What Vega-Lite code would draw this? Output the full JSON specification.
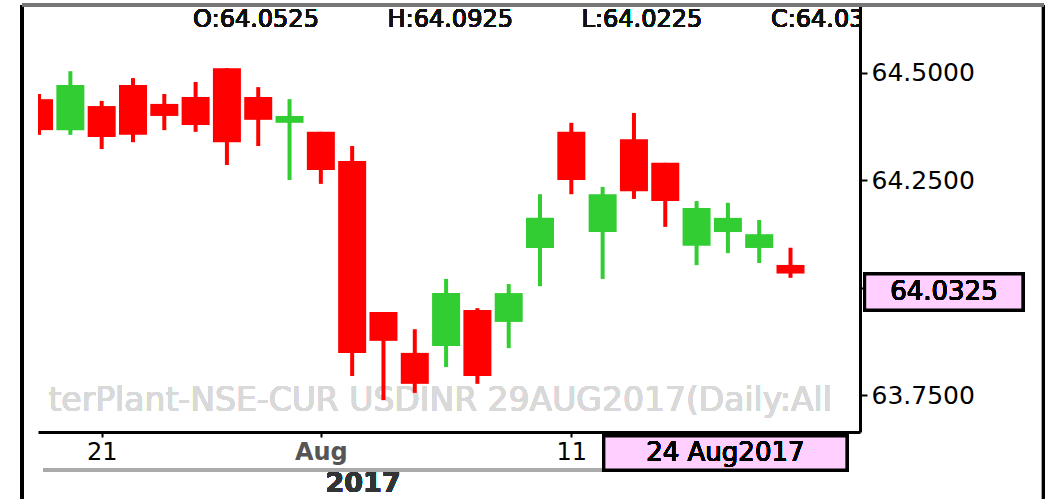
{
  "$schema": "https://vega.github.io/schema/vega-lite/v6.json",
  "autosize": {"type": "none"},
  "padding": {"left": 38, "top": 5, "right": 193, "bottom": 67},
  "width": 822,
  "height": 427,
  "background": "white",
  "config": {"view": {"stroke": null}, "font": "DejaVu Sans"},
  "data": {
    "values": [
      {"i": 1, "date": "2017-07-19", "open": 64.438, "high": 64.45, "low": 64.355, "close": 64.366},
      {"i": 2, "date": "2017-07-20", "open": 64.366, "high": 64.503, "low": 64.355, "close": 64.471},
      {"i": 3, "date": "2017-07-21", "open": 64.422, "high": 64.434, "low": 64.322, "close": 64.35},
      {"i": 4, "date": "2017-07-24", "open": 64.471, "high": 64.487, "low": 64.338, "close": 64.355},
      {"i": 5, "date": "2017-07-25", "open": 64.427, "high": 64.45, "low": 64.366, "close": 64.399},
      {"i": 6, "date": "2017-07-26", "open": 64.443, "high": 64.478, "low": 64.362, "close": 64.378},
      {"i": 7, "date": "2017-07-27", "open": 64.51, "high": 64.51, "low": 64.285, "close": 64.338},
      {"i": 8, "date": "2017-07-28", "open": 64.443, "high": 64.466, "low": 64.329, "close": 64.39},
      {"i": 9, "date": "2017-07-31", "open": 64.383, "high": 64.438, "low": 64.25, "close": 64.399},
      {"i": 10, "date": "2017-08-01", "open": 64.362, "high": 64.362, "low": 64.241, "close": 64.273},
      {"i": 11, "date": "2017-08-02", "open": 64.294, "high": 64.329, "low": 63.794, "close": 63.848},
      {"i": 12, "date": "2017-08-03", "open": 63.943, "high": 63.943, "low": 63.738, "close": 63.876},
      {"i": 13, "date": "2017-08-04", "open": 63.848, "high": 63.903, "low": 63.755, "close": 63.776},
      {"i": 14, "date": "2017-08-07", "open": 63.864, "high": 64.02, "low": 63.815, "close": 63.987},
      {"i": 15, "date": "2017-08-08", "open": 63.948, "high": 63.952, "low": 63.776, "close": 63.794},
      {"i": 16, "date": "2017-08-09", "open": 63.92, "high": 64.008, "low": 63.859, "close": 63.987},
      {"i": 17, "date": "2017-08-10", "open": 64.092, "high": 64.217, "low": 64.003, "close": 64.162},
      {"i": 18, "date": "2017-08-11", "open": 64.362, "high": 64.383, "low": 64.217, "close": 64.25},
      {"i": 19, "date": "2017-08-14", "open": 64.129, "high": 64.234, "low": 64.02, "close": 64.217},
      {"i": 20, "date": "2017-08-16", "open": 64.345, "high": 64.406, "low": 64.206, "close": 64.224},
      {"i": 21, "date": "2017-08-17", "open": 64.29, "high": 64.29, "low": 64.141, "close": 64.201},
      {"i": 22, "date": "2017-08-18", "open": 64.097, "high": 64.201, "low": 64.052, "close": 64.185},
      {"i": 23, "date": "2017-08-21", "open": 64.129, "high": 64.197, "low": 64.08, "close": 64.162},
      {"i": 24, "date": "2017-08-22", "open": 64.092, "high": 64.157, "low": 64.057, "close": 64.124},
      {"i": 25, "date": "2017-08-24", "open": 64.0525, "high": 64.0925, "low": 64.0225, "close": 64.0325}
    ]
  },
  "layer": [
    {
      "mark": {"type": "text", "clip": true, "align": "center", "baseline": "middle", "fontSize": 33, "fill": "#d9d9d9", "text": "terPlant-NSE-CUR USDINR 29AUG2017(Daily:All"},
      "encoding": {
        "x": {"datum": 13.81, "type": "quantitative"},
        "y": {"datum": 63.736, "type": "quantitative"}
      }
    },
    {
      "mark": {"type": "rule", "clip": true, "strokeWidth": 4},
      "encoding": {
        "x": {
          "field": "i", "type": "quantitative",
          "scale": {"domain": [1.126, 27.06], "nice": false, "zero": false},
          "axis": {
            "values": [3, 10, 18],
            "labelExpr": "datum.value == 3 ? '21' : datum.value == 10 ? 'Aug' : '11'",
            "title": null,
            "grid": false,
            "domainColor": "black",
            "domainWidth": 3,
            "tickColor": "black",
            "tickWidth": 2,
            "tickSize": 5,
            "labelFont": "DejaVu Sans",
            "labelFontSize": 24,
            "labelPadding": 3,
            "labelColor": {"condition": {"test": "datum.value == 10", "value": "#555555"}, "value": "black"},
            "labelFontWeight": {"condition": {"test": "datum.value == 10", "value": "bold"}, "value": "normal"}
          }
        },
        "y": {
          "field": "low", "type": "quantitative",
          "scale": {"domain": [63.664, 64.657], "nice": false, "zero": false},
          "axis": {
            "orient": "right",
            "values": [63.75, 64, 64.25, 64.5],
            "labelExpr": "datum.value == 64 ? '' : format(datum.value, '.4f')",
            "title": null,
            "grid": false,
            "domainColor": "black",
            "domainWidth": 3,
            "tickColor": "black",
            "tickWidth": 2,
            "tickSize": 7,
            "labelFont": "DejaVu Sans",
            "labelFontSize": 25,
            "labelColor": "black",
            "labelPadding": 4
          }
        },
        "y2": {"field": "high"},
        "color": {"condition": {"test": "datum.close > datum.open", "value": "#32CD32"}, "value": "#FF0000"}
      }
    },
    {
      "mark": {"type": "bar", "clip": true, "width": 28},
      "encoding": {
        "x": {"field": "i", "type": "quantitative"},
        "y": {"field": "open", "type": "quantitative"},
        "y2": {"field": "close"},
        "color": {"condition": {"test": "datum.close > datum.open", "value": "#32CD32"}, "value": "#FF0000"}
      }
    },
    {
      "mark": {"type": "text", "clip": true, "align": "left", "baseline": "middle", "fontSize": 24, "fontWeight": "normal", "fill": "#111111", "text": "O:64.0525\u00a0\u00a0\u00a0\u00a0\u00a0\u00a0\u00a0\u00a0\u00a0H:64.0925\u00a0\u00a0\u00a0\u00a0\u00a0\u00a0\u00a0\u00a0\u00a0L:64.0225\u00a0\u00a0\u00a0\u00a0\u00a0\u00a0\u00a0\u00a0\u00a0C:64.0325"},
      "encoding": {
        "x": {"datum": 5.92, "type": "quantitative"},
        "y": {"datum": 64.622, "type": "quantitative"}
      }
    },
    {
      "mark": {"type": "rule", "clip": false, "stroke": "#aaaaaa", "strokeWidth": 3},
      "encoding": {
        "x": {"datum": 1.126, "type": "quantitative"},
        "x2": {"datum": 19.04},
        "y": {"datum": 63.5756, "type": "quantitative"}
      }
    },
    {
      "mark": {"type": "rect", "clip": false, "fill": "#ffd0ff", "stroke": "black", "strokeWidth": 3},
      "encoding": {
        "x": {"datum": 19.04, "type": "quantitative"},
        "x2": {"datum": 26.8},
        "y": {"datum": 63.6546, "type": "quantitative"},
        "y2": {"datum": 63.5756}
      }
    },
    {
      "mark": {"type": "text", "clip": false, "align": "center", "baseline": "middle", "fontSize": 26, "fill": "black", "text": "24 Aug2017"},
      "encoding": {
        "x": {"datum": 22.92, "type": "quantitative"},
        "y": {"datum": 63.615, "type": "quantitative"}
      }
    },
    {
      "mark": {"type": "rect", "clip": false, "fill": "#ffd0ff", "stroke": "black", "strokeWidth": 3},
      "encoding": {
        "x": {"datum": 27.37, "type": "quantitative"},
        "x2": {"datum": 32.42},
        "y": {"datum": 64.0314, "type": "quantitative"},
        "y2": {"datum": 63.9477}
      }
    },
    {
      "mark": {"type": "text", "clip": false, "align": "center", "baseline": "middle", "fontSize": 26, "fill": "black", "text": "64.0325"},
      "encoding": {
        "x": {"datum": 29.9, "type": "quantitative"},
        "y": {"datum": 63.9895, "type": "quantitative"}
      }
    },
    {
      "mark": {"type": "text", "clip": false, "align": "center", "baseline": "middle", "fontSize": 27, "fontWeight": "bold", "fill": "#333333", "text": "2017"},
      "encoding": {
        "x": {"datum": 11.35, "type": "quantitative"},
        "y": {"datum": 63.543, "type": "quantitative"}
      }
    },
    {
      "mark": {"type": "rule", "clip": false, "stroke": "black", "strokeWidth": 3},
      "encoding": {
        "x": {"datum": 0.4637, "type": "quantitative"},
        "y": {"datum": 64.657, "type": "quantitative"},
        "y2": {"datum": 63.508}
      }
    },
    {
      "mark": {"type": "rule", "clip": false, "stroke": "black", "strokeWidth": 3},
      "encoding": {
        "x": {"datum": 33.08, "type": "quantitative"},
        "y": {"datum": 64.657, "type": "quantitative"},
        "y2": {"datum": 63.508}
      }
    },
    {
      "mark": {"type": "rule", "clip": false, "stroke": "#777777", "strokeWidth": 3},
      "encoding": {
        "x": {"datum": 0.4637, "type": "quantitative"},
        "x2": {"datum": 33.08},
        "y": {"datum": 64.657, "type": "quantitative"}
      }
    }
  ]
}
